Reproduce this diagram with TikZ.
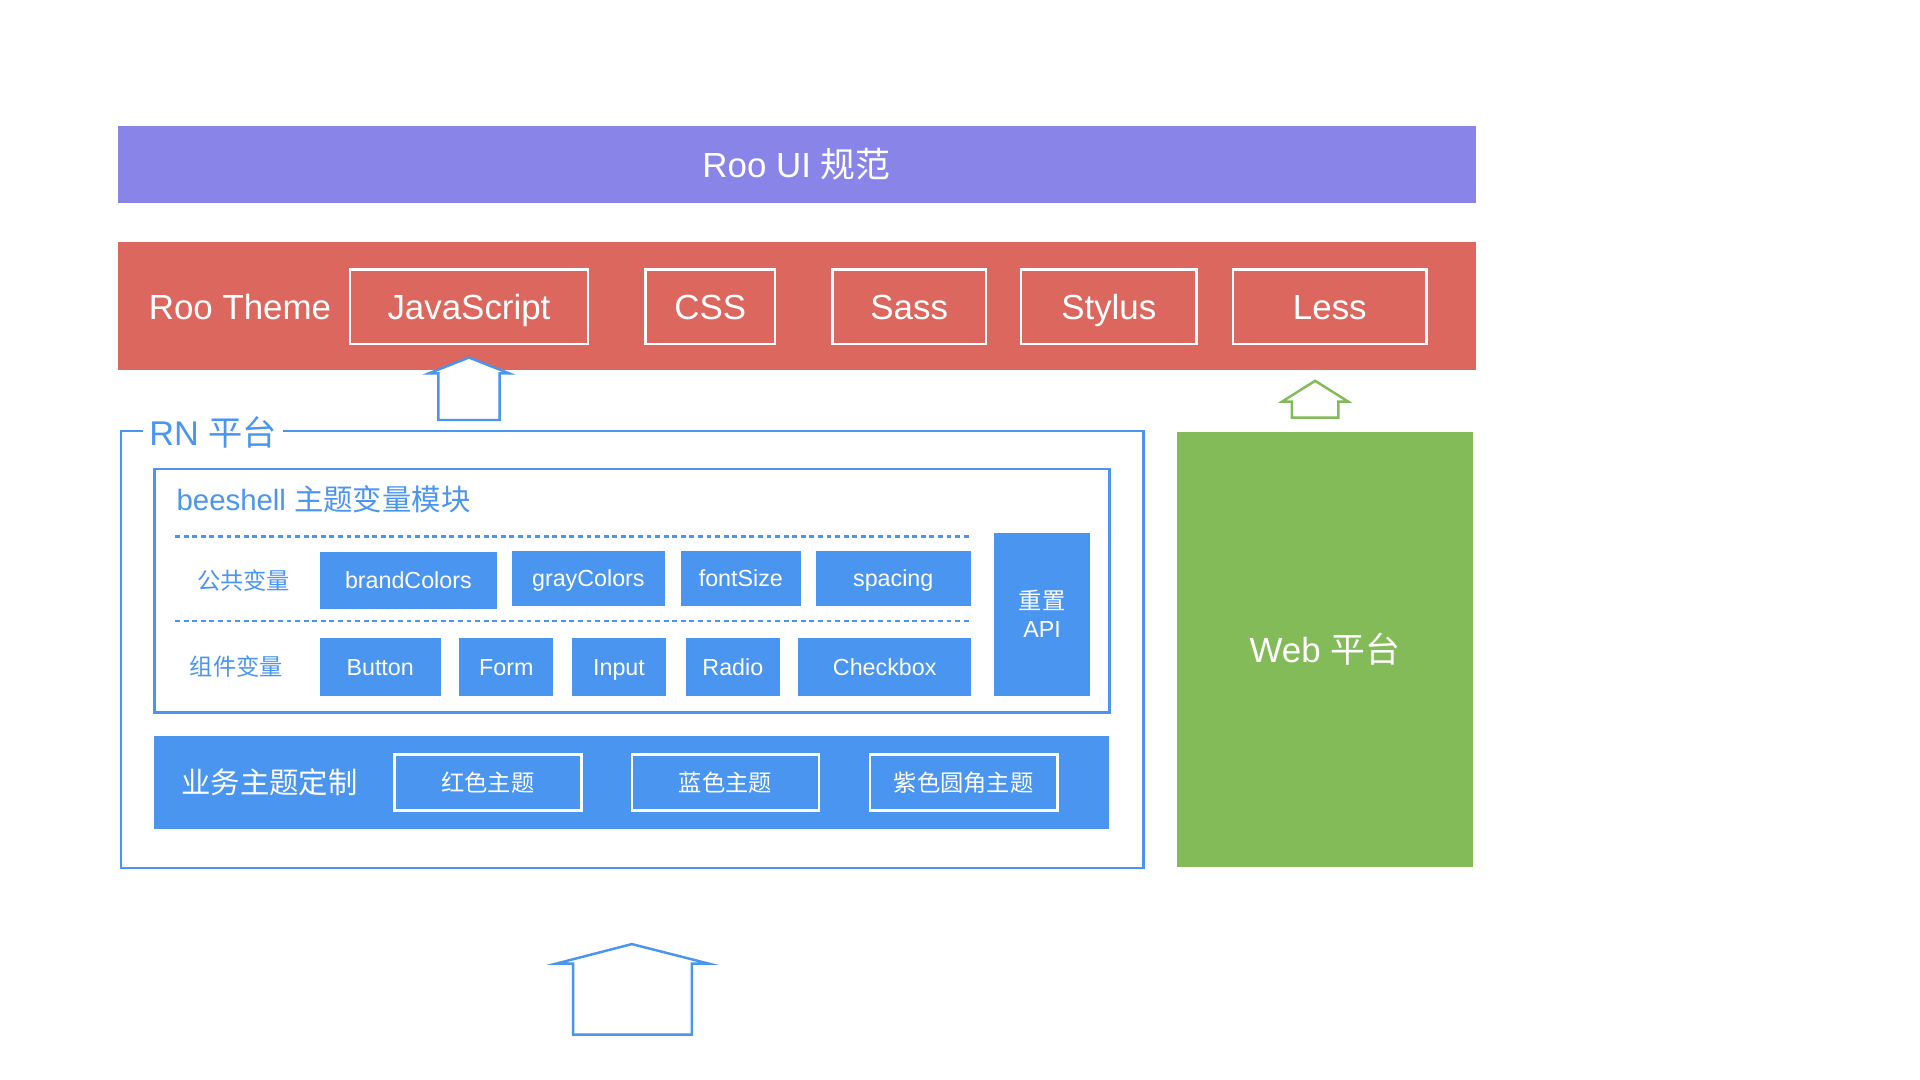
\documentclass[tikz,border=0pt]{standalone}
\usepackage{fontspec}
\setmainfont{Liberation Sans}
\newfontfamily\cjk{Noto Sans CJK SC}
\definecolor{cpurple}{HTML}{8884E8}
\definecolor{cred}{HTML}{DB675E}
\definecolor{cblue}{HTML}{4A95EF}
\definecolor{cgreen}{HTML}{83BB58}
\newcommand{\fs}[1]{\fontsize{#1}{#1}\selectfont}
\begin{document}
\begin{tikzpicture}[x=1pt,y=-1pt,
  bar/.style={draw=none,inner sep=0pt,text=white},
  big/.style={font=\fs{28.5},text height=20.4pt,text depth=0pt},
  small/.style={font=\fs{19},text height=13.6pt,text depth=0pt},
  wbox/.style={draw=white,line width=2pt,inner sep=0pt,text=white,big},
  vbox/.style={fill=cblue,draw=none,inner sep=0pt,text=white,small},
  tbox/.style={draw=white,line width=2pt,inner sep=0pt,text=white,minimum width=153pt,minimum height=46pt,font=\fs{19}\cjk},
  bluetext/.style={text=cblue,inner sep=0pt},
  arrowshape/.style={line width=2pt,line join=miter,fill=white}
]
\useasboundingbox (0,0) rectangle (1568,882);
\fill[white] (0,0) rectangle (1568,882);

% Roo UI
\node[bar,fill=cpurple,minimum width=1109pt,minimum height=63pt,big] (spec) at (650.5,134.5) {Roo UI {\cjk 规范}};

% Roo Theme
\node[bar,fill=cred,minimum width=1109pt,minimum height=104pt] (theme) at (650.5,250) {};
\node[bar,big] (themelbl) at (196,251) {Roo Theme};
\node[wbox,minimum width=194pt,minimum height=61pt] (js) at (383,250.5) {JavaScript};
\node[wbox,minimum width=106pt,minimum height=61pt] (css) at (580,250.5) {CSS};
\node[wbox,minimum width=125pt,minimum height=61pt] (sass) at (742.5,250.5) {Sass};
\node[wbox,minimum width=143pt,minimum height=61pt] (stylus) at (905.5,250.5) {Stylus};
\node[wbox,minimum width=158pt,minimum height=61pt] (less) at (1086,250.5) {Less};

% arrows
\draw[arrowshape,draw=cblue] (358,343) -- (358,305) -- (350,305) -- (383,292) -- (416,305) -- (408,305) -- (408,343) -- cycle;
\draw[arrowshape,draw=cgreen] (1055,341) -- (1055,328) -- (1047,328) -- (1074,311) -- (1101,328) -- (1093,328) -- (1093,341) -- cycle;
\draw[arrowshape,draw=cblue] (468,845) -- (468,787) -- (454,787) -- (516,771) -- (579,787) -- (565,787) -- (565,845) -- cycle;

% RN frame
\draw[cblue,line width=2pt] (99,352) rectangle (934,709);
\node[bluetext,fill=white,inner xsep=5pt,font=\fs{28}] (rn) at (174,353) {RN {\cjk 平台}};

% beeshell module
\draw[cblue,line width=2pt] (126,383) rectangle (906,582);
\node[bluetext,anchor=west,font=\fs{24}] (bee) at (144,408) {beeshell {\cjk 主题变量模块}};
\coordinate (d1a) at (143,438); \coordinate (d1b) at (793,438);
\coordinate (d2a) at (143,507); \coordinate (d2b) at (793,507);
\draw[cblue,line width=2pt,dash pattern=on 4pt off 3pt] (d1a) -- (d1b);
\draw[cblue,line width=2pt,dash pattern=on 4pt off 3pt] (d2a) -- (d2b);

\node[bluetext,font=\fs{19}\cjk] (pub) at (199,474) {公共变量};
\node[bluetext,font=\fs{19}\cjk] (comp) at (193,544) {组件变量};

\node[vbox,minimum width=145pt,minimum height=46pt] (brand) at (333.5,474) {brandColors};
\node[vbox,minimum width=125pt,minimum height=45pt] (gray) at (480.5,472.5) {grayColors};
\node[vbox,minimum width=98pt,minimum height=45pt] (fsize) at (605,472.5) {fontSize};
\node[vbox,minimum width=127pt,minimum height=45pt] (spacing) at (729.5,472.5) {spacing};

\node[vbox,minimum width=99pt,minimum height=47pt] (button) at (310.5,544.5) {Button};
\node[vbox,minimum width=77pt,minimum height=47pt] (form) at (413.5,544.5) {Form};
\node[vbox,minimum width=77pt,minimum height=47pt] (input) at (505.5,544.5) {Input};
\node[vbox,minimum width=77pt,minimum height=47pt] (radio) at (598.5,544.5) {Radio};
\node[vbox,minimum width=141pt,minimum height=47pt] (checkbox) at (722.5,544.5) {Checkbox};

\node[fill=cblue,draw=none,inner sep=0pt,text=white,font=\fs{19},minimum width=78pt,minimum height=133pt,align=center] (reset) at (851,501.5) {{\cjk 重置}\\[4pt]API};

% business
\node[bar,fill=cblue,minimum width=780pt,minimum height=76pt] (biz) at (516,639) {};
\node[bar,font=\fs{24}\cjk] (bizlbl) at (220,639) {业务主题定制};
\node[tbox] (redt) at (398.5,639) {红色主题};
\node[tbox] (bluet) at (592.5,639) {蓝色主题};
\node[tbox] (purplet) at (787,639) {紫色圆角主题};

% Web
\node[bar,fill=cgreen,minimum width=242pt,minimum height=355pt,big] (web) at (1082,530.5) {Web {\cjk 平台}};
\end{tikzpicture}
\end{document}
